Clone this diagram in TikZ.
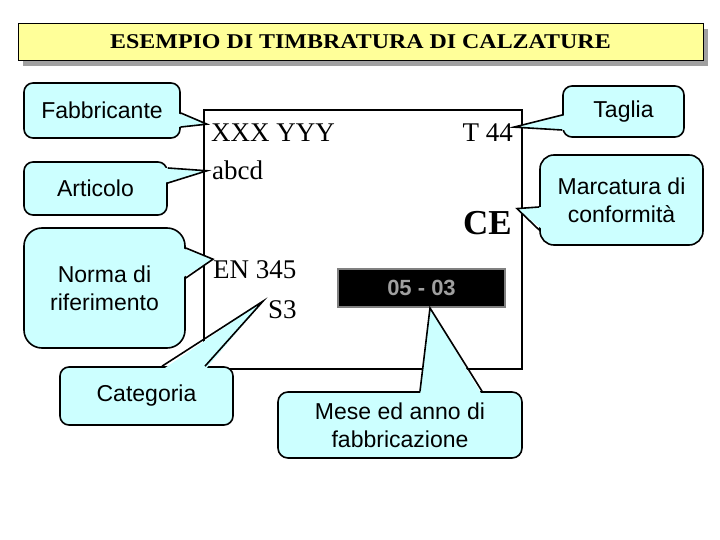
\documentclass[tikz,border=0pt]{standalone}
\usepackage{fontspec}
\setmainfont{Liberation Serif}
\setsansfont{Liberation Sans}
\usepackage{tikz}
\usetikzlibrary{calc}

\definecolor{callcyan}{RGB}{204,255,255}
\definecolor{titleyellow}{RGB}{255,255,153}
\definecolor{shadowgray}{RGB}{160,160,160}
\definecolor{dategray}{RGB}{160,160,160}

\tikzset{
    callbox/.style={draw=black,line width=1.6pt,fill=callcyan,align=center,
        inner sep=0pt,font=\sffamily\fontsize{23}{28}\selectfont},
    stamptext/.style={inner sep=0pt,font=\fontsize{27}{30}\selectfont},
    wedgefill/.style={fill=callcyan},
    wedgeline/.style={draw=black,line width=1.6pt,line join=miter},
}

\begin{document}
\begin{tikzpicture}[x=1pt,y=-1pt]
    \useasboundingbox (0,0) rectangle (720,540);

    % Title
    \fill[shadowgray] (23,29) rectangle (708,66);
    \node[draw=black,line width=0.8pt,fill=titleyellow,minimum width=685pt,minimum height=37pt,
        inner sep=0pt,font=\bfseries\fontsize{21}{24}\selectfont] (title) at (360.5,41.5)
        {\scalebox{1.14}[1]{ESEMPIO DI TIMBRATURA DI CALZATURE}};

    % Stamp
    \draw[line width=1.6pt] (204,110) rectangle (522,369);
    \node[stamptext,anchor=base west] (xxx) at (211,142) {XXX YYY};
    \node[stamptext,anchor=base west] (abcd) at (212,180) {abcd};
    \node[stamptext,anchor=base east] (t44) at (513,142) {T 44};
    \node[inner sep=0pt,anchor=base east,font=\bfseries\fontsize{35}{38}\selectfont] (ce) at (512,235) {CE};
    \node[stamptext,anchor=base west] (en) at (213,278) {EN 345};
    \node[stamptext,anchor=base west] (s3) at (268,318) {S3};
    \node[draw=gray,line width=2pt,fill=black,minimum width=167pt,minimum height=38pt,inner sep=0pt,
        text=dategray,font=\sffamily\bfseries\fontsize{22}{24}\selectfont] (date) at (421.5,288) {05 - 03};

    % Callouts
    \node[callbox,minimum width=156pt,minimum height=55pt,rounded corners=9pt] (fabb) at (102,110.5) {Fabbricante};
    \node[callbox,minimum width=143pt,minimum height=53pt,rounded corners=9pt] (art) at (95.5,188.5) {Articolo};
    \node[callbox,minimum width=161pt,minimum height=120pt,rounded corners=18pt] (norma) at (104.5,288) {Norma di\\riferimento};
    \node[callbox,minimum width=173pt,minimum height=58pt,rounded corners=9pt] (cat) at (146.5,396) {Categoria};
    \node[callbox,minimum width=121pt,minimum height=51pt,rounded corners=9pt] (taglia) at (623.5,111.5) {Taglia};
    \node[callbox,minimum width=163pt,minimum height=90pt,rounded corners=14pt] (marc) at (621.5,200) {Marcatura di\\conformità};
    \node[callbox,minimum width=244pt,minimum height=66pt,rounded corners=10pt] (mese) at (400,425) {Mese ed anno di\\fabbricazione};

    % Pointer tips
    \coordinate (tipxxx) at ($(xxx.west)+(-4,-9)$);
    \coordinate (tipabcd) at ($(abcd.west)+(-5,0)$);
    \coordinate (tipen) at ($(en.west)+(0,-10)$);
    \coordinate (tips3) at ($(s3.west)+(-5,-8)$);
    \coordinate (tipt44) at ($(t44.east)+(1,-6)$);
    \coordinate (tipce) at ($(ce.east)+(5,-15)$);
    \coordinate (tipdate) at (date.south -| 430,0);

    % Pointers
    \fill[wedgefill] (177,113) -- (tipxxx) -- (177,127) -- cycle;
    \draw[wedgeline] (fabb.east |- 0,113) -- (tipxxx) -- (fabb.east |- 0,127);
    \fill[wedgefill] (164,168) -- (tipabcd) -- (164,183) -- cycle;
    \draw[wedgeline] (art.east |- 0,168) -- (tipabcd) -- (art.east |- 0,183);
    \fill[wedgefill] (182,248) -- (tipen) -- (182,278) -- cycle;
    \draw[wedgeline] (norma.east |- 0,248) -- (tipen) -- (norma.east |- 0,278);
    \fill[wedgefill] (162,370) -- (tips3) -- (205,370) -- cycle;
    \draw[wedgeline] (162,0 |- cat.north) -- (tips3) -- (205,0 |- cat.north);
    \fill[wedgefill] (566,115) -- (tipt44) -- (566,130) -- cycle;
    \draw[wedgeline] (taglia.west |- 0,115) -- (tipt44) -- (taglia.west |- 0,130);
    \fill[wedgefill] (543,207) -- (tipce) -- (543,230) -- cycle;
    \draw[wedgeline] (marc.west |- 0,207) -- (tipce) -- (marc.west |- 0,230);
    \fill[wedgefill] (420,395) -- (tipdate) -- (482,395) -- cycle;
    \draw[wedgeline] (420,0 |- mese.north) -- (tipdate) -- (482,0 |- mese.north);
\end{tikzpicture}
\end{document}
